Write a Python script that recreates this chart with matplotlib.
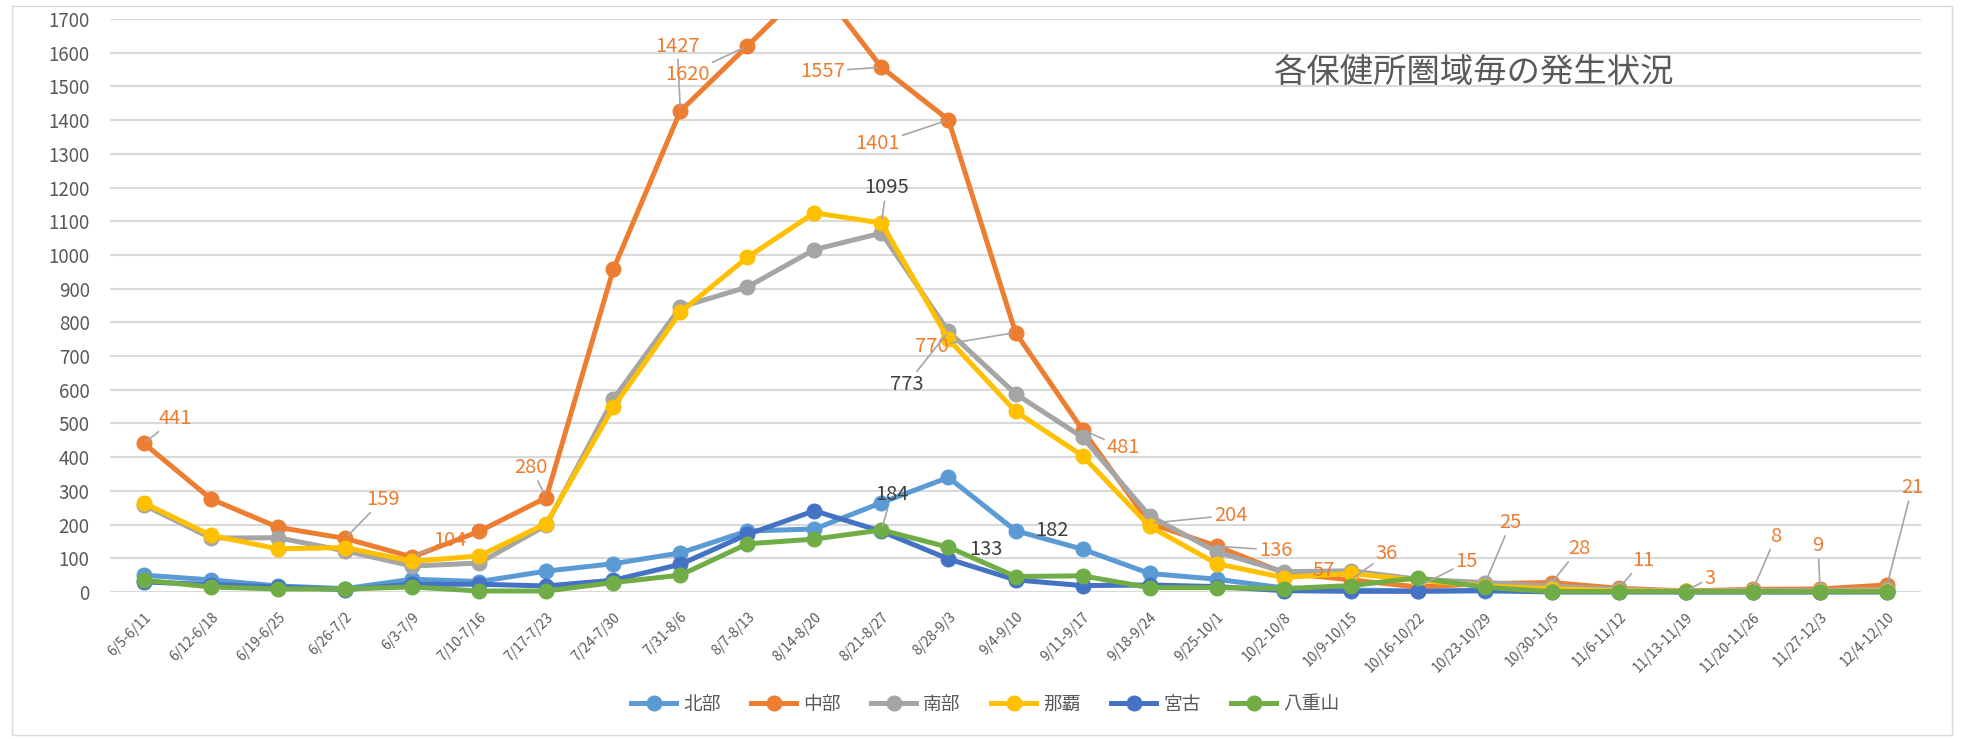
import numpy as np
import matplotlib.pyplot as plt
from matplotlib.patches import Rectangle

plt.rcParams['font.family'] = ['Noto Sans CJK JP', 'DejaVu Sans']

# weekly periods
weeks = ['6/5-6/11', '6/12-6/18', '6/19-6/25', '6/26-7/2', '6/3-7/9', '7/10-7/16',
         '7/17-7/23', '7/24-7/30', '7/31-8/6', '8/7-8/13', '8/14-8/20', '8/21-8/27',
         '8/28-9/3', '9/4-9/10', '9/11-9/17', '9/18-9/24', '9/25-10/1', '10/2-10/8',
         '10/9-10/15', '10/16-10/22', '10/23-10/29', '10/30-11/5', '11/6-11/12',
         '11/13-11/19', '11/20-11/26', '11/27-12/3', '12/4-12/10']

# cases per health-centre area
hokubu = [50, 36, 18, 10, 38, 31, 62, 84, 116, 181, 187, 265, 340, 182, 127,
          55, 38, 12, 6, 3, 3, 2, 3, 1, 1, 1, 2]
chubu = [441, 276, 192, 159, 104, 180, 280, 957, 1427, 1620, 1815, 1557, 1401, 770, 481,
         204, 136, 57, 36, 15, 25, 28, 11, 3, 8, 9, 21]
nanbu = [258, 160, 161, 122, 77, 86, 198, 572, 845, 905, 1016, 1065, 773, 588, 459,
         226, 119, 60, 63, 38, 28, 18, 8, 2, 5, 5, 8]
naha = [264, 168, 128, 132, 91, 107, 203, 548, 830, 993, 1125, 1095, 750, 536, 404,
        195, 84, 43, 55, 35, 18, 10, 4, 2, 2, 2, 3]
miyako = [30, 22, 15, 7, 23, 23, 18, 35, 82, 171, 241, 180, 98, 36, 19,
          21, 16, 4, 2, 2, 5, 0, 0, 0, 0, 0, 0]
yaeyama = [35, 15, 9, 9, 15, 3, 3, 28, 50, 143, 157, 184, 133, 46, 48,
           13, 13, 10, 19, 42, 14, 1, 1, 1, 1, 1, 1]

names = ['北部', '中部', '南部', '那覇', '宮古', '八重山']
series = [hokubu, chubu, nanbu, naha, miyako, yaeyama]
colors = ['#5B9BD5', '#ED7D31', '#A5A5A5', '#FFC000', '#4472C4', '#70AD47']

# data labels: (series, week, dx px, dy px, leader line)
data_labels = [
    (1, 0, 31, 25, True), (1, 3, 38, 39, True), (1, 4, 38, 16, True),
    (1, 6, -15, 30, True), (1, 8, -3, 65, True), (1, 9, -60, -28, True),
    (1, 11, -59, -4, True), (1, 12, -71, -24, True), (1, 13, -84, -14, True),
    (1, 14, 41, -18, True), (1, 15, 81, 8, True), (1, 16, 59, -4, True),
    (1, 17, 40, 2, False), (1, 18, 36, 26, True), (1, 19, 49, 25, True),
    (1, 20, 26, 61, True), (1, 21, 27, 34, True), (1, 22, 24, 28, True),
    (1, 23, 24, 13, True), (1, 24, 23, 53, True), (1, 25, -2, 43, True),
    (1, 26, 25, 97, True),
    (3, 11, 5, 35, True), (2, 12, -42, -53, True), (5, 11, 10, 35, True),
    (5, 12, 37, -2, False), (0, 13, 36, 0, False),
]

fig = plt.figure(figsize=(19.62, 7.39), dpi=100)
ax = fig.add_axes([0.0563, 0.1989, 0.9226, 0.7753])
x = np.arange(len(weeks))

clip = Rectangle((-0.02, -0.1), 1.04, 1.1, transform=ax.transAxes, facecolor='none')
for vals, name, c in zip(series, names, colors):
    line, = ax.plot(x, vals, color=c, lw=3.6, marker='o', ms=10.5, label=name,
                    solid_joinstyle='round')
    line.set_clip_path(clip)

ax.set_xlim(-0.5, len(weeks) - 0.5)
ax.set_ylim(0, 1700)
ax.set_yticks(range(0, 1701, 100))
ax.grid(axis='y', color='#D9D9D9', lw=1.5)
ax.set_axisbelow(True)
for s in ax.spines.values():
    s.set_visible(False)
ax.tick_params(length=0, colors='#595959')
ax.tick_params(axis='y', labelsize=13.5, pad=15)
ax.set_xticks(x)
ax.set_xticklabels(weeks, rotation=45, ha='right', rotation_mode='anchor', fontsize=10)
ax.tick_params(axis='x', pad=13)

for si, wi, dx, dy, leader in data_labels:
    v = series[si][wi]
    col = '#ED7D31' if si == 1 else '#404040'
    arrow = dict(arrowstyle='-', color='#A6A6A6', lw=1.2, shrinkA=0, shrinkB=3) if leader else None
    ax.annotate(str(v), (wi, v), xytext=(dx, dy), textcoords='offset pixels',
                ha='center', va='center', fontsize=14.5, color=col,
                arrowprops=arrow, annotation_clip=False)

fig.text(1273 / 1962, 1 - 72 / 739, '各保健所圏域毎の発生状況', fontsize=24,
         color='#595959', ha='left', va='center')

fig.legend(loc='center', bbox_to_anchor=(0.502, 0.047), ncol=6, frameon=False,
           fontsize=13.5, handlelength=2.45, columnspacing=1.6, handletextpad=0.35,
           labelcolor='#595959')

fig.patches.append(Rectangle((12 / 1962, 4 / 739), 1940 / 1962, 729 / 739,
                             transform=fig.transFigure, fill=False,
                             edgecolor='#D9D9D9', lw=1))

fig.savefig('out.png', dpi=100)
